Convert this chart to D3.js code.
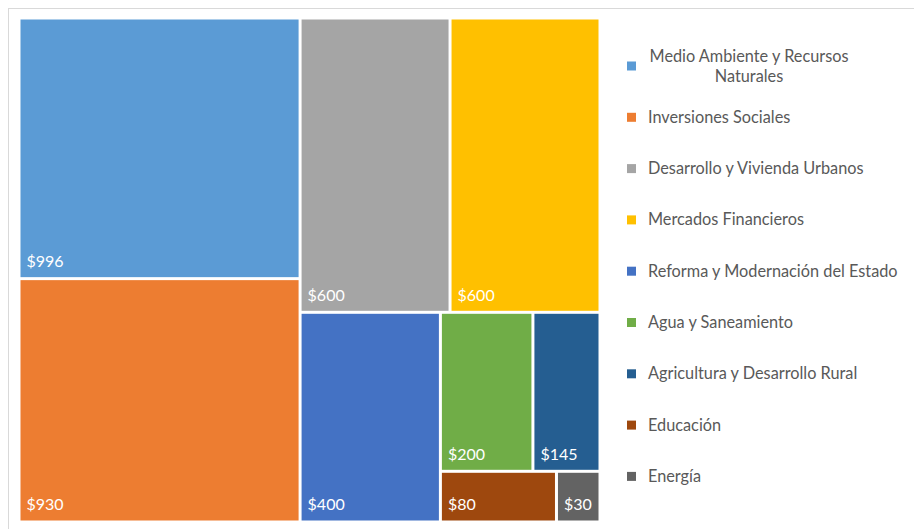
<!DOCTYPE html>
<html>
<head>
<meta charset="utf-8">
<script src="https://cdn.jsdelivr.net/npm/d3@7"></script>
<style>
  body { margin: 0; background: #fff; }
  svg { display: block; font-family: Lato, "Open Sans", sans-serif; }
</style>
</head>
<body>
<svg id="chart"></svg>
<script>
var width = 914,
    height = 529;

// chart data (in millions)
var categories = ["Medio Ambiente y Recursos Naturales", "Inversiones Sociales",
  "Desarrollo y Vivienda Urbanos", "Mercados Financieros",
  "Reforma y Modernación del Estado", "Agua y Saneamiento",
  "Agricultura y Desarrollo Rural", "Educación", "Energía"];
var amounts = [996, 930, 600, 600, 400, 200, 145, 80, 30];
var colors = ["#5B9BD5", "#ED7D31", "#A5A5A5", "#FFC000", "#4472C4",
  "#70AD47", "#255E91", "#9E480E", "#636363"];

var svg = d3.select('#chart')
            .attr('width', width)
            .attr('height', height);

// chart border (only top/left visible in the frame)
svg.append('rect')
    .attr('x', 8.5).attr('y', 8.5)
    .attr('width', 950).attr('height', 560)
    .attr('fill', 'none')
    .attr('stroke', '#d9d9d9');

var colorScale = d3.scaleOrdinal()
                    .domain(categories)
                    .range(colors);

var tableData = categories.map(function(c, i) {
  return {name: c, value: amounts[i], order: i};
});

var root = d3.hierarchy({children: tableData})
              .sum(function(d) { return d.value || 0; })
              .sort(function(a, b) { return b.value - a.value || a.data.order - b.data.order; });

d3.treemap()
  .tile(d3.treemapSquarify.ratio(1.3))
  .size([578, 501])
  .paddingInner(3)(root);

var plot = svg.append('g')
              .attr('transform', 'translate(20.5,19.5)');

var cells = plot.selectAll('.cell')
                .data(root.leaves())
                .enter()
                .append('g')
                .classed('cell', true)
                .attr('transform', function(d) { return 'translate(' + d.x0 + ',' + d.y0 + ')'; });

cells.append('rect')
    .attr('width', function(d) { return d.x1 - d.x0; })
    .attr('height', function(d) { return d.y1 - d.y0; })
    .attr('fill', function(d) { return colorScale(d.data.name); });

cells.append('text')
    .attr('x', 6)
    .attr('y', function(d) { return d.y1 - d.y0 - 10; })
    .attr('fill', '#fff')
    .style('font-size', '16px')
    .text(function(d) { return '$' + d.data.value; });

// legend
var legendY = d3.scalePoint()
                 .domain(categories)
                 .range([66, 476.4]);

var legend = svg.append('g').classed('legend', true);

var items = legend.selectAll('.item')
                  .data(categories)
                  .enter()
                  .append('g')
                  .classed('item', true)
                  .attr('transform', function(d) { return 'translate(0,' + legendY(d) + ')'; });

items.append('rect')
    .attr('x', 627).attr('y', -4.5)
    .attr('width', 9).attr('height', 9)
    .attr('fill', function(d) { return colorScale(d); });

items.each(function(d) {
  var g = d3.select(this);
  if (d === categories[0]) {
    var t = g.append('text')
             .attr('fill', '#595959')
             .style('font-size', '16.3px')
             .attr('text-anchor', 'middle');
    t.append('tspan').attr('x', 749).attr('y', -4).text('Medio Ambiente y Recursos');
    t.append('tspan').attr('x', 749).attr('y', 16).text('Naturales');
  } else {
    g.append('text')
     .attr('x', 648).attr('y', 5.5)
     .attr('fill', '#595959')
     .style('font-size', '16.3px')
     .text(d);
  }
});
</script>
</body>
</html>
